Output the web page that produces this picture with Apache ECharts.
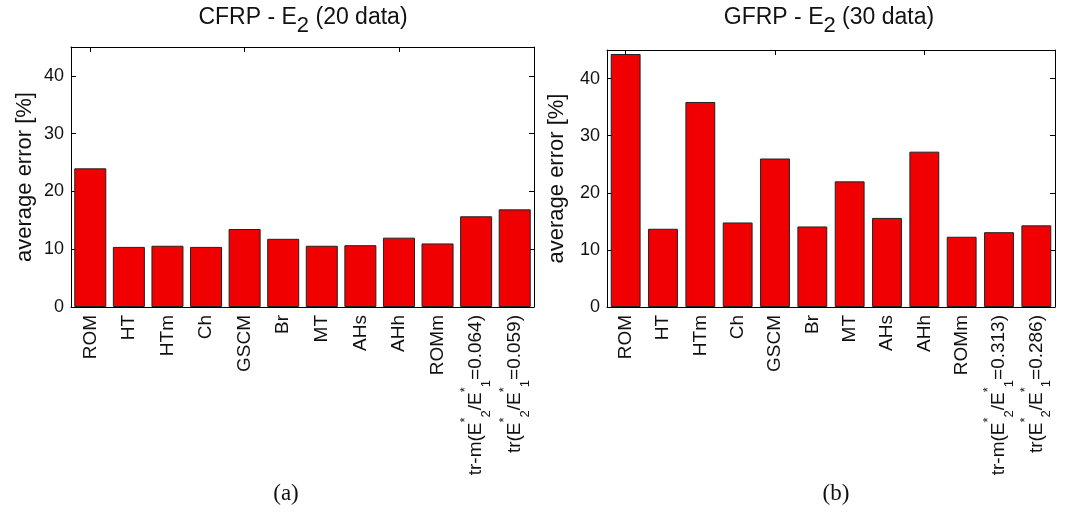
<!DOCTYPE html>
<html>
<head>
<meta charset="utf-8">
<script src="https://cdn.jsdelivr.net/npm/echarts@6/dist/echarts.min.js"></script>
<style>
  html, body { margin: 0; padding: 0; background: #fff; }
  #chart { width: 1088px; height: 521px; }
</style>
</head>
<body>
<div id="chart"></div>
<script>
// Method names along the x axis (same for both panels except the last two)
const methods = ['ROM', 'HT', 'HTm', 'Ch', 'GSCM', 'Br', 'MT', 'AHs', 'AHh', 'ROMm'];
const cfrpExtra = ['tr-m(E2*/E1*=0.064)', 'tr(E2*/E1*=0.059)'];
const gfrpExtra = ['tr-m(E2*/E1*=0.313)', 'tr(E2*/E1*=0.286)'];

// Average error [%] per method
const cfrpErrors = [24.0, 10.4, 10.6, 10.4, 13.5, 11.8, 10.6, 10.7, 12.0, 11.0, 15.7, 16.9];
const gfrpErrors = [44.3, 13.7, 35.9, 14.8, 26.0, 14.1, 22.0, 15.6, 27.2, 12.3, 13.1, 14.3];

// Panel titles and captions
const titles = ['CFRP - E{sub|2} (20 data)', 'GFRP - E{sub|2} (30 data)'];
const captions = ['(a)', '(b)'];
const yTicks = [0, 10, 20, 30, 40];

const cfrpCats = methods.concat(cfrpExtra);
const gfrpCats = methods.concat(gfrpExtra);

const FONT = 'Liberation Sans, Arial, sans-serif';

// turn "E2*" into E with a starred superscript followed by a numeric subscript
function richLabel(s) {
  return s.replace(/E(\d)\*/g, 'E{sup|*}{sub|$1}');
}

const labelRich = {
  sup: { fontSize: 13, fontFamily: FONT, color: '#111', verticalAlign: 'top', lineHeight: 12 },
  sub: { fontSize: 13, fontFamily: FONT, color: '#111', verticalAlign: 'bottom', lineHeight: 12 }
};

const titleRich = {
  sub: { fontSize: 22, fontFamily: FONT, color: '#111', verticalAlign: 'bottom', lineHeight: 22 }
};

const chart = echarts.init(document.getElementById('chart'), null, { renderer: 'canvas' });

const grids = [
  { left: 71, right: 554, top: 47, bottom: 214 },
  { left: 607, right: 33, top: 50, bottom: 214 }
];

function xAxes(gi, cats) {
  return [
    {
      type: 'category', gridIndex: gi, data: cats, position: 'bottom',
      axisLine: { onZero: false, lineStyle: { color: '#000', width: 1 } },
      axisTick: { show: false },
      axisLabel: {
        rotate: 90, fontSize: 19, fontFamily: FONT, color: '#111', margin: 8, lineHeight: 34,
        interval: 0, formatter: richLabel, rich: labelRich
      }
    },
    {
      type: 'category', gridIndex: gi, data: cats, position: 'top',
      axisLine: { onZero: false, lineStyle: { color: '#000', width: 1 } },
      axisTick: { show: true, inside: true, alignWithLabel: true, length: 5, lineStyle: { color: '#000' } },
      axisLabel: { show: false }
    }
  ];
}

function yAxes(gi, nameGap) {
  const common = {
    type: 'value', gridIndex: gi, min: 0, max: 45, interval: 10,
    splitLine: { show: false },
    axisLine: { show: true, onZero: false, lineStyle: { color: '#000', width: 1 } },
    axisTick: { show: true, inside: true, length: 5, lineStyle: { color: '#000' } }
  };
  return [
    Object.assign({}, common, {
      position: 'left',
      name: 'average error [%]', nameLocation: 'middle', nameGap: nameGap,
      nameTextStyle: { fontSize: 22, fontFamily: FONT, color: '#111' },
      axisLabel: {
        fontSize: 18, fontFamily: FONT, color: '#111', margin: 7, showMaxLabel: false,
        formatter: v => (yTicks.indexOf(v) >= 0 ? String(v) : '')
      }
    }),
    Object.assign({}, common, {
      position: 'right',
      axisLabel: { show: false }
    })
  ];
}

const barStyle = { color: '#f00000', borderColor: '#222', borderWidth: 1 };

function titleText(x, text) {
  return {
    type: 'text', x: x, y: 18,
    style: {
      text: text, fontSize: 23, fontFamily: FONT, fill: '#111', lineHeight: 38,
      align: 'center', verticalAlign: 'middle', rich: titleRich
    }
  };
}

function captionText(x, text) {
  return {
    type: 'text', x: x, y: 482,
    style: { text: text, fontSize: 23, fontFamily: 'Liberation Serif, Times New Roman, serif', fill: '#111', align: 'center' }
  };
}

const option = {
  animation: false,
  backgroundColor: '#fff',
  grid: grids,
  xAxis: xAxes(0, cfrpCats).concat(xAxes(1, gfrpCats)),
  yAxis: yAxes(0, 35).concat(yAxes(1, 39)),
  series: [
    { type: 'bar', xAxisIndex: 0, yAxisIndex: 0, data: cfrpErrors, barCategoryGap: '17%', itemStyle: barStyle },
    { type: 'bar', xAxisIndex: 2, yAxisIndex: 2, data: gfrpErrors, barCategoryGap: '20%', itemStyle: barStyle }
  ],
  graphic: [
    titleText(303, titles[0]),
    titleText(829, titles[1]),
    captionText(286, captions[0]),
    captionText(836, captions[1])
  ]
};

chart.setOption(option);
</script>
</body>
</html>
